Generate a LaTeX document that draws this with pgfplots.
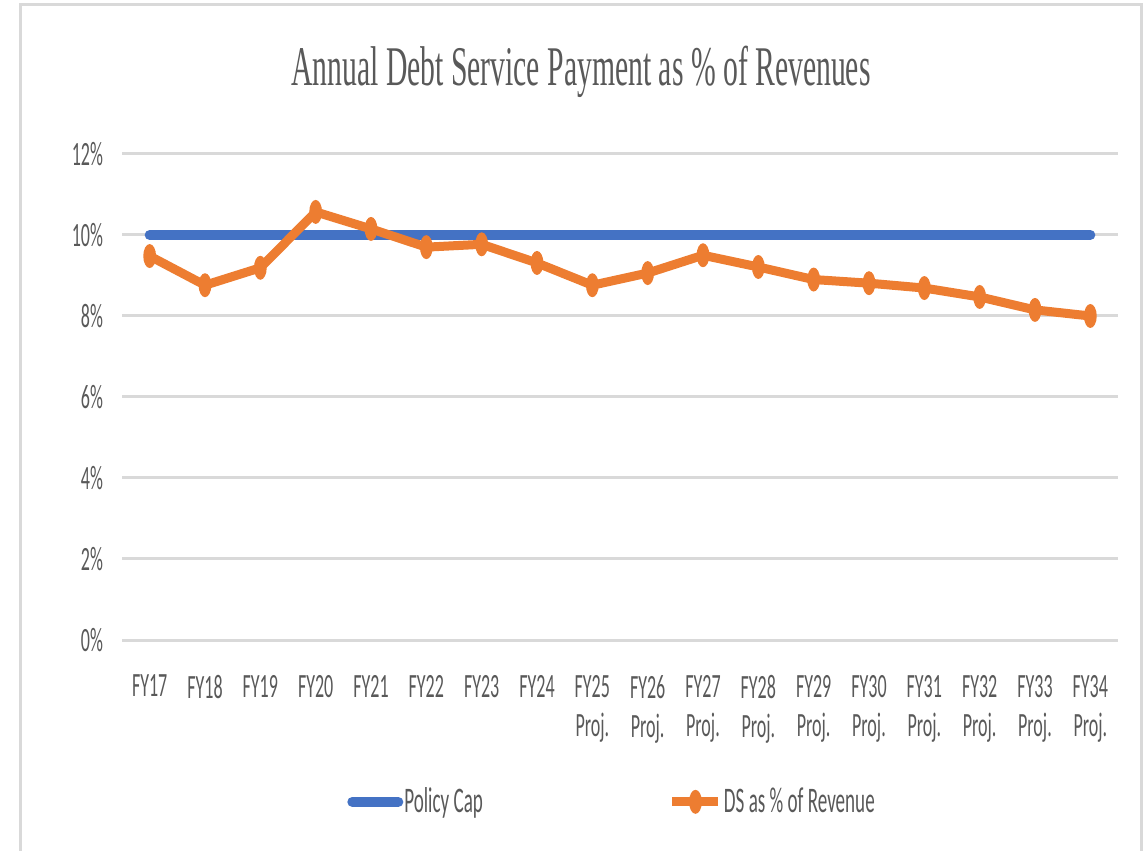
\documentclass[border=0pt]{standalone}
\usepackage{pgfplots}
\pgfplotsset{compat=1.18}
\usepackage{fontspec}
\setmainfont[FakeStretch=0.53]{Carlito}
\newfontfamily\titlefont[FakeStretch=0.53]{Liberation Serif}
\definecolor{capblue}{HTML}{4472C4}
\definecolor{dsorange}{HTML}{ED7D31}
\definecolor{gridgray}{HTML}{D9D9D9}
\definecolor{txtgray}{HTML}{595959}
\pgfdeclareplotmark{vellipse}{%
  \pgfpathellipse{\pgfpointorigin}{\pgfqpoint{3.2pt}{0pt}}{\pgfqpoint{0pt}{6pt}}%
  \pgfusepathqfill}
\begin{document}
\begin{tikzpicture}
\begin{axis}[
  at={(61pt,105.5pt)}, anchor=south west,
  scale only axis, width=498pt, height=243pt,
  xmin=-0.5, xmax=17.5, ymin=0, ymax=12,
  axis line style={draw=none},
  tick style={draw=none},
  ymajorgrids, grid style={gridgray, line width=1.5pt},
  ytick={0,2,4,6,8,10,12},
  yticklabels={0\%,2\%,4\%,6\%,8\%,10\%,12\%},
  xtick={0,...,17},
  xticklabels={FY17,FY18,FY19,FY20,FY21,FY22,FY23,FY24,FY25\\Proj.,FY26\\Proj.,FY27\\Proj.,FY28\\Proj.,FY29\\Proj.,FY30\\Proj.,FY31\\Proj.,FY32\\Proj.,FY33\\Proj.,FY34\\Proj.},
  xticklabel style={align=center, font=\fontsize{17}{19.5}\selectfont, text=txtgray, yshift=-14pt},
  yticklabel style={font=\fontsize{17}{19}\selectfont, text=txtgray, xshift=-6pt},
  /pgf/number format/assume math mode=true,
  title={\titlefont Annual Debt Service Payment as \% of Revenues},
  title style={at={(rel axis cs:0.4608,1.116)}, anchor=base, font=\fontsize{28}{30}\selectfont, text=txtgray},
  legend columns=2,
  legend style={draw=none, at={(rel axis cs:0.4915,-0.333)}, anchor=center,
    font=\fontsize{18}{20}\selectfont, text=txtgray,
    nodes={inner xsep=0.5pt},
    /tikz/every even column/.append style={column sep=92pt}},
  legend image code/.code={\draw[mark repeat=2,mark phase=2,#1] plot coordinates {(0pt,0pt)(11.5pt,0pt)(23pt,0pt)};},
]
\addplot[capblue, line width=5pt, line cap=round, mark=none] coordinates {
(0,10) (1,10) (2,10) (3,10) (4,10) (5,10) (6,10) (7,10) (8,10) (9,10)
(10,10) (11,10) (12,10) (13,10) (14,10) (15,10) (16,10) (17,10)};
\addlegendentry{Policy Cap}
\addplot[dsorange, line width=4.5pt, line join=round, mark=vellipse, mark options={dsorange}] coordinates {
(0,9.48) (1,8.76) (2,9.19) (3,10.57) (4,10.15) (5,9.70) (6,9.77) (7,9.31)
(8,8.76) (9,9.06) (10,9.50) (11,9.21) (12,8.90) (13,8.81) (14,8.69)
(15,8.47) (16,8.15) (17,8.00)};
\addlegendentry{DS as \% of Revenue}
\end{axis}
\draw[gridgray, line width=1.5pt] (10pt,-5pt) -- (10pt,423pt) -- (570.5pt,423pt) -- (570.5pt,-5pt);
\pgfresetboundingbox
\path[use as bounding box] (0,0) rectangle (573pt,425.5pt);
\end{tikzpicture}
\end{document}
